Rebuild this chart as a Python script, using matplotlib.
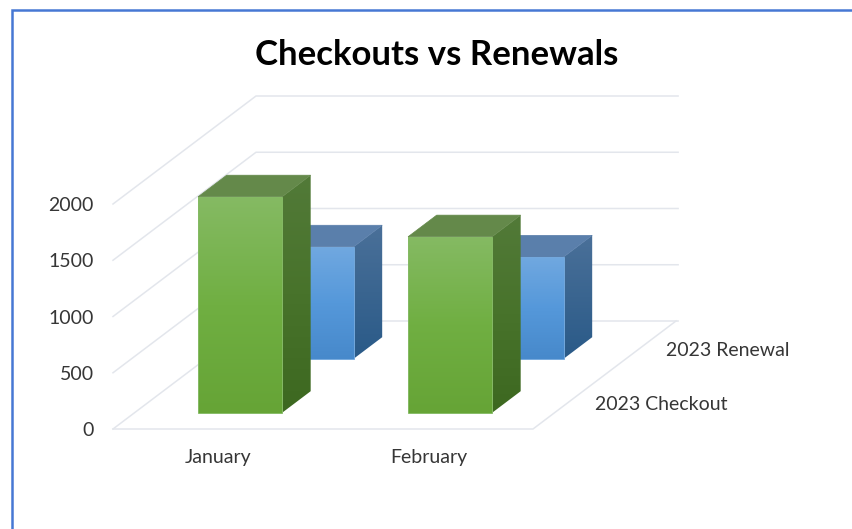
import numpy as np
import matplotlib
matplotlib.use('Agg')
import matplotlib.pyplot as plt
from matplotlib.colors import LinearSegmentedColormap
from matplotlib.patches import Polygon

months = ['January', 'February']
series_names = ['2023 Checkout', '2023 Renewal']
checkout = [1920, 1565]
renewal = [995, 905]
y_ticks = [0, 500, 1000, 1500, 2000]

# Excel-style oblique 3D, everything in image pixels
W, H = 852, 529
X0, Y0 = 113, 429        # front left corner of the floor
CAT_W = 210              # pixels per category
DEPTH_X, DEPTH_Y = 143, 108
PX_PER_UNIT = 225 / 2000
BAR_W = 0.4              # share of category
BAR_D = 0.2              # share of full depth
BAR_SHIFT = 0.003
GRID = '#e3e6ec'
TEXT = '#363636'

plt.rcParams['font.family'] = ['Lato', 'DejaVu Sans']


def proj(cat, depth, val):
    # cat in category units, depth 0..1 front to back, val in data units
    return (X0 + cat * CAT_W + depth * DEPTH_X,
            Y0 - depth * DEPTH_Y - val * PX_PER_UNIT)


def gradient_face(ax, pts, colors, zorder):
    cmap = LinearSegmentedColormap.from_list('f', colors)
    xs = [p[0] for p in pts]
    ys = [p[1] for p in pts]
    im = ax.imshow(np.linspace(0, 1, 128).reshape(-1, 1), cmap=cmap, aspect='auto',
                   extent=(min(xs), max(xs), max(ys), min(ys)), zorder=zorder)
    im.set_clip_path(Polygon(pts, closed=True, transform=ax.transData))


def draw_bar(ax, cat, depth, val, col, zorder):
    left = cat + (1 - BAR_W) / 2 + BAR_SHIFT
    right = left + BAR_W
    back = depth + BAR_D
    fb = proj(left, depth, 0)
    fbr = proj(right, depth, 0)
    ft = proj(left, depth, val)
    ftr = proj(right, depth, val)
    bbr = proj(right, back, 0)
    btr = proj(right, back, val)
    btl = proj(left, back, val)

    gradient_face(ax, [ftr, btr, bbr, fbr], col['side'], zorder)
    ax.add_patch(Polygon([ft, btl, btr, ftr], closed=True, facecolor=col['top'],
                         edgecolor=col['top'], linewidth=0.5, zorder=zorder))
    gradient_face(ax, [ft, ftr, fbr, fb], col['front'], zorder + 0.1)
    ax.add_patch(Polygon([ft, ftr, fbr, fb], closed=True, fill=False,
                         edgecolor=col['edge'], linewidth=0.7, zorder=zorder + 0.2))


fig = plt.figure(figsize=(W / 100, H / 100), dpi=100)
ax = fig.add_axes([0, 0, 1, 1])

# walls and floor
for v in y_ticks:
    ax.plot(*zip(proj(0, 0, v), proj(0, 1, v), proj(2.01, 1, v)),
            color=GRID, lw=1.1, zorder=1)
    ax.text(94, proj(0, 0, v)[1] + 1.5, str(v), ha='right', va='center',
            fontsize=14, color=TEXT)
ax.plot(*zip(proj(0, 0, 0), proj(2, 0, 0), proj(2, 1, 0)),
        color=GRID, lw=1.1, zorder=1)

green = {'front': ['#85ba63', '#70af42', '#66a436'], 'side': ['#527a38', '#48732b', '#3d6820'],
         'top': '#64894a', 'edge': '#86bb66'}
blue = {'front': ['#70a8e0', '#5598da', '#4789cb'], 'side': ['#4a7099', '#3a6590', '#2a5a88'],
        'top': '#5a7fab', 'edge': '#74a9dd'}

# back row first so the front row covers it
depth_front = (1 - 2 * BAR_D) / 4
for i in range(len(months)):
    draw_bar(ax, i, 0.5 + depth_front, renewal[i], blue, 3)
for i in range(len(months)):
    draw_bar(ax, i, depth_front, checkout[i], green, 5)

for i, m in enumerate(months):
    ax.text(proj(i + 0.5, 0, 0)[0] + 0.5, 458, m, ha='center', va='center',
            fontsize=14, color=TEXT)
for k, s in enumerate(series_names):
    sx, sy = proj(2, 0.25 + 0.5 * k, 0)
    ax.text(sx + 26, sy + 2, s, ha='left', va='center', fontsize=14, color=TEXT)

ax.text(437, 55, 'Checkouts vs Renewals', ha='center', va='center',
        fontsize=25, fontweight='bold', color='black')

# chart frame, only top and left show in the crop
ax.plot([12, 12, W], [H, 10, 10], color='#4678d4', lw=1.8, zorder=8, solid_joinstyle='miter')

ax.set_xlim(0, W)
ax.set_ylim(H, 0)
ax.axis('off')
fig.savefig('out.png', dpi=100)
plt.close(fig)
